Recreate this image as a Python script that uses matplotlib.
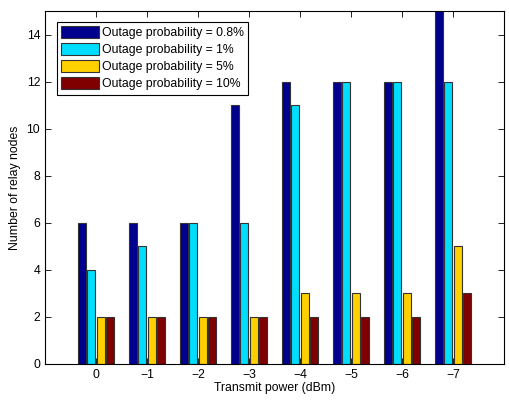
import matplotlib
matplotlib.use("Agg")
import matplotlib.pyplot as plt
import numpy as np

plt.rcParams['font.family'] = ['Liberation Sans', 'DejaVu Sans']

powers = ['0', '\u22121', '\u22122', '\u22123', '\u22124', '\u22125', '\u22126', '\u22127']
series_labels = ['Outage probability = 0.8%', 'Outage probability = 1%',
                 'Outage probability = 5%', 'Outage probability = 10%']
p08 = [6, 6, 6, 11, 12, 12, 12, 15]
p1 = [4, 5, 6, 6, 11, 12, 12, 12]
p5 = [2, 2, 2, 2, 3, 3, 3, 5]
p10 = [2, 2, 2, 2, 2, 2, 2, 3]
colors = ['#00008F', '#00DDFF', '#FFD000', '#800000']

fig = plt.figure(figsize=(5.1, 4.0), dpi=100)
ax = fig.add_axes([45/510, 1-364/400, 459/510, 353/400])

x = np.arange(1, len(powers) + 1)
offsets = [-0.28, -0.093, 0.093, 0.28]
w = 0.165
for vals, off, c, lab in zip([p08, p1, p5, p10], offsets, colors, series_labels):
    ax.bar(x + off, vals, width=w, color=c, edgecolor='#333333', linewidth=0.8, label=lab)

ax.set_xlim(0, 9)
ax.set_ylim(0, 15)
ax.set_xticks(x)
ax.set_xticklabels(powers)
ax.set_yticks(range(0, 15, 2))
ax.tick_params(direction='in', top=True, right=True, labelsize=8.8, length=4, width=0.6)
for s in ax.spines.values():
    s.set_linewidth(0.8)
ax.set_xlabel('Transmit power (dBm)', fontsize=8.8, labelpad=1)
ax.set_ylabel('Number of relay nodes', fontsize=8.8, labelpad=4)

leg = ax.legend(loc='upper left', bbox_to_anchor=(0.026, 0.97), fontsize=8.8, fancybox=False,
                edgecolor='black', framealpha=1, handlelength=3.1, handleheight=1.15,
                labelspacing=0.32, borderpad=0.35, handletextpad=0.25, borderaxespad=0)
leg.get_frame().set_linewidth(0.8)

fig.savefig('out.png', dpi=100)
